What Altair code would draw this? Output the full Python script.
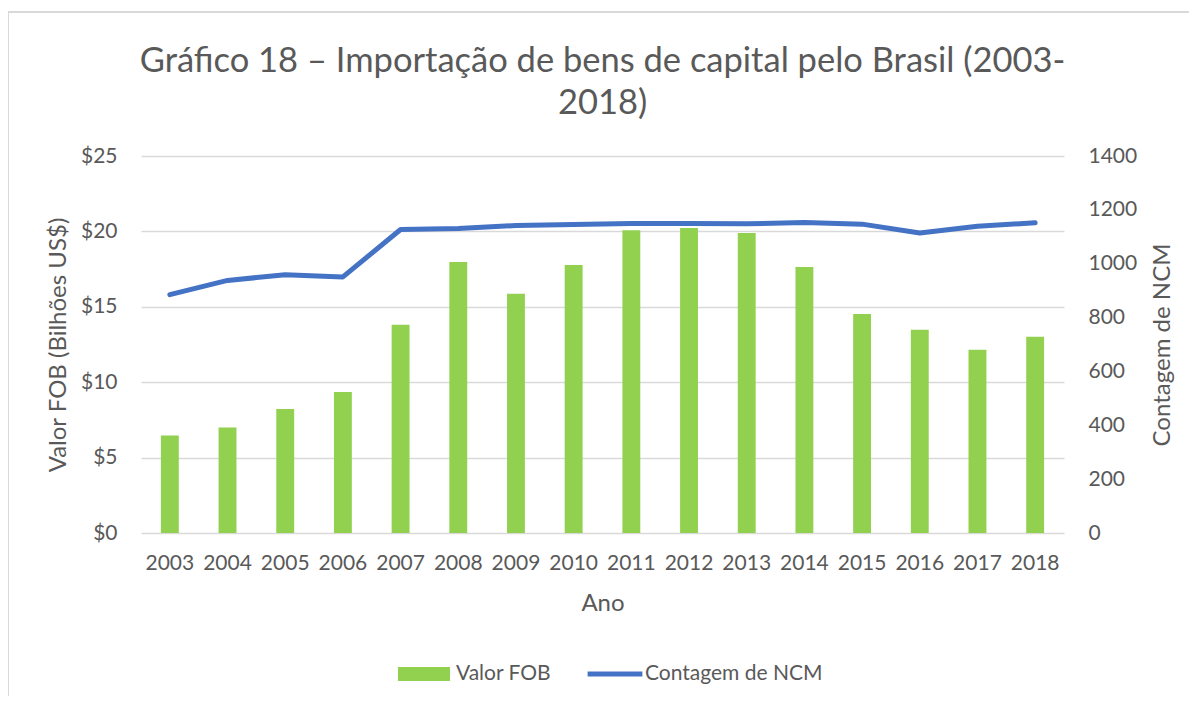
import altair as alt
import pandas as pd

anos = [str(a) for a in range(2003, 2019)]
valor_fob = [6.47, 7.0, 8.22, 9.35, 13.81, 17.97, 15.87, 17.77,
             20.08, 20.23, 19.9, 17.64, 14.52, 13.48, 12.15, 13.01]
contagem_ncm = [885, 938, 959, 951, 1127, 1131, 1142, 1146,
                1149, 1149, 1148, 1153, 1147, 1114, 1139, 1152]

df = pd.DataFrame({
    "Ano": anos,
    "Valor": valor_fob,
    "NCM": contagem_ncm,
    "s_bar": ["Valor FOB"] * len(anos),
    "s_line": ["Contagem de NCM"] * len(anos),
})

FONT = "Lato"
GRAY = "#595959"
GREEN = "#92D050"
BLUE = "#4472C4"

x = alt.X("Ano:N", title="Ano",
          scale=alt.Scale(paddingInner=0, paddingOuter=0),
          axis=alt.Axis(labelAngle=0, domain=False, ticks=False, labelPadding=19,
                        titlePadding=18, labelFontSize=21, titleFontSize=24,
                        titleFontWeight="normal"))

frame = alt.Chart(df).mark_rect(fill=None, stroke="#d9d9d9", strokeWidth=2).encode(
    x=alt.value(-133), x2=alt.value(1300), y=alt.value(-144), y2=alt.value(800)
)

bars = alt.Chart(df).mark_bar(width={"band": 0.31}, color=GREEN).encode(
    x=x,
    y=alt.Y("Valor:Q", title="Valor FOB (Bilhões US$)",
            scale=alt.Scale(domain=[0, 25]),
            axis=alt.Axis(values=[0, 5, 10, 15, 20, 25], format="$,.0f", orient="left",
                          domain=False, ticks=False, labelPadding=24, titlePadding=10,
                          labelFontSize=21, titleFontSize=24, titleFontWeight="normal",
                          gridColor="#d9d9d9", gridWidth=1.5)),
    fill=alt.Fill("s_bar:N", title=None,
                  scale=alt.Scale(domain=["Valor FOB"], range=[GREEN]),
                  legend=alt.Legend(orient="none", legendX=257, legendY=492,
                                    symbolType="M-1,-0.27H1V0.27H-1Z",
                                    symbolSize=2700, symbolStrokeWidth=0,
                                    labelFontSize=21, labelOffset=6, padding=0,
                                    labelLimit=400)),
)

line = alt.Chart(df).mark_line(strokeWidth=5, strokeCap="round", strokeJoin="round").encode(
    x=x,
    y=alt.Y("NCM:Q", title="Contagem de NCM",
            scale=alt.Scale(domain=[0, 1400]),
            axis=alt.Axis(values=[0, 200, 400, 600, 800, 1000, 1200, 1400], format="d",
                          orient="right", grid=False, domain=False, ticks=False,
                          labelPadding=24, titlePadding=14, labelFontSize=21,
                          titleFontSize=24, titleFontWeight="normal", titleAngle=270,
                          titleBaseline="top")),
    stroke=alt.Stroke("s_line:N", title=None,
                      scale=alt.Scale(domain=["Contagem de NCM"], range=[BLUE]),
                      legend=alt.Legend(orient="none", legendX=444, legendY=488,
                                        symbolType="stroke", symbolSize=3000,
                                        symbolStrokeWidth=5, labelFontSize=21,
                                        labelOffset=0, padding=0, labelLimit=400)),
)

chart = alt.layer(frame, bars, line).resolve_scale(
    y="independent", fill="independent", stroke="independent"
).properties(
    width=923, height=377,
    title=alt.Title(["Gráfico 18 – Importação de bens de capital pelo Brasil (2003-", "2018)"],
                    fontSize=34.5, fontWeight="normal", color=GRAY, font=FONT,
                    anchor="middle", lineHeight=42, offset=0, dy=137,
                    baseline="alphabetic"),
    autosize=alt.AutoSizeParams(type="none"),
    padding={"left": 133, "top": 148, "right": 125, "bottom": 163},
).configure(
    font=FONT,
).configure_axis(
    labelColor=GRAY, titleColor=GRAY, labelFont=FONT, titleFont=FONT,
).configure_legend(
    labelColor=GRAY, labelFont=FONT,
).configure_view(stroke=None)

chart.save("out.html", embed_options={"renderer": "svg", "actions": False})
